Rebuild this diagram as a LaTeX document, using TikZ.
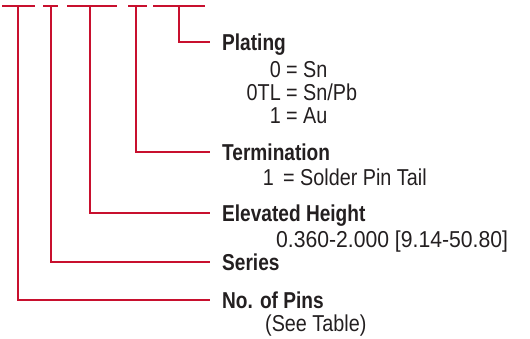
\documentclass[tikz,border=0pt]{standalone}
\usepackage{fontspec}
\setmainfont{Liberation Sans}[FakeStretch=0.86,BoldFeatures={FakeStretch=0.83}]
\newfontfamily\numfont{Liberation Sans}[FakeStretch=0.92]
\usepackage{tikz}
\usepackage{xcolor}
\definecolor{leadred}{RGB}{200,16,46}
\definecolor{txtgray}{RGB}{35,31,32}

\begin{document}
\begin{tikzpicture}[x=1pt,y=-1pt,
  lead/.style={draw=leadred,line width=2pt},
  lbl/.style={anchor=west,inner sep=0pt,text height=16.5pt,text depth=0pt,font=\fontsize{23}{23}\selectfont\bfseries,text=txtgray},
  opt/.style={inner sep=0pt,text height=16.5pt,text depth=0pt,font=\fontsize{23}{23}\selectfont,text=txtgray}]
  \useasboundingbox (0,0) rectangle (530,339);
  % part number bars
  \draw[lead] (2,6) -- (35,6); \draw[lead] (43,6) -- (58,6); \draw[lead] (67,6) -- (117,6); \draw[lead] (128,6) -- (147,6); \draw[lead] (153,6) -- (205,6);
  \coordinate (b1) at (18,6); \coordinate (b2) at (51,6); \coordinate (b3) at (90,6); \coordinate (b4) at (136,6); \coordinate (b5) at (179,6);
  % labels
  \node[lbl] (plating) at (222,42) {Plating}; \node[lbl] (term) at (222,152) {Termination};
  \node[lbl] (height) at (222,213) {Elevated Height}; \node[lbl] (series) at (222,262) {Series};
  \node[lbl] (pins) at (222,300) {No. of Pins};
  \node[opt,anchor=east] (p0) at (281,69) {0}; \node[opt,anchor=west] at (286,69) {= Sn};
  \node[opt,anchor=east] (p0tl) at (281,92) {0TL}; \node[opt,anchor=west] at (286,92) {= Sn/Pb};
  \node[opt,anchor=east] (p1) at (281,115) {1}; \node[opt,anchor=west] at (286,115) {= Au};
  \node[opt,anchor=east] (t1) at (274,177) {1}; \node[opt,anchor=west] at (283,177) {= Solder Pin Tail};
  \node[opt,anchor=west,font=\fontsize{23}{23}\numfont] (hrange) at (276,239) {0.360-2.000 [9.14-50.80]};
  \node[opt,anchor=west] (seetab) at (265,323) {(See Table)};
  % leaders
  \draw[lead] (b5) |- ([xshift=-12pt]plating.west); \draw[lead] (b4) |- ([xshift=-12pt]term.west);
  \draw[lead] (b3) |- ([xshift=-12pt]height.west); \draw[lead] (b2) |- ([xshift=-12pt]series.west);
  \draw[lead] (b1) |- ([xshift=-12pt]pins.west);
\end{tikzpicture}
\end{document}
